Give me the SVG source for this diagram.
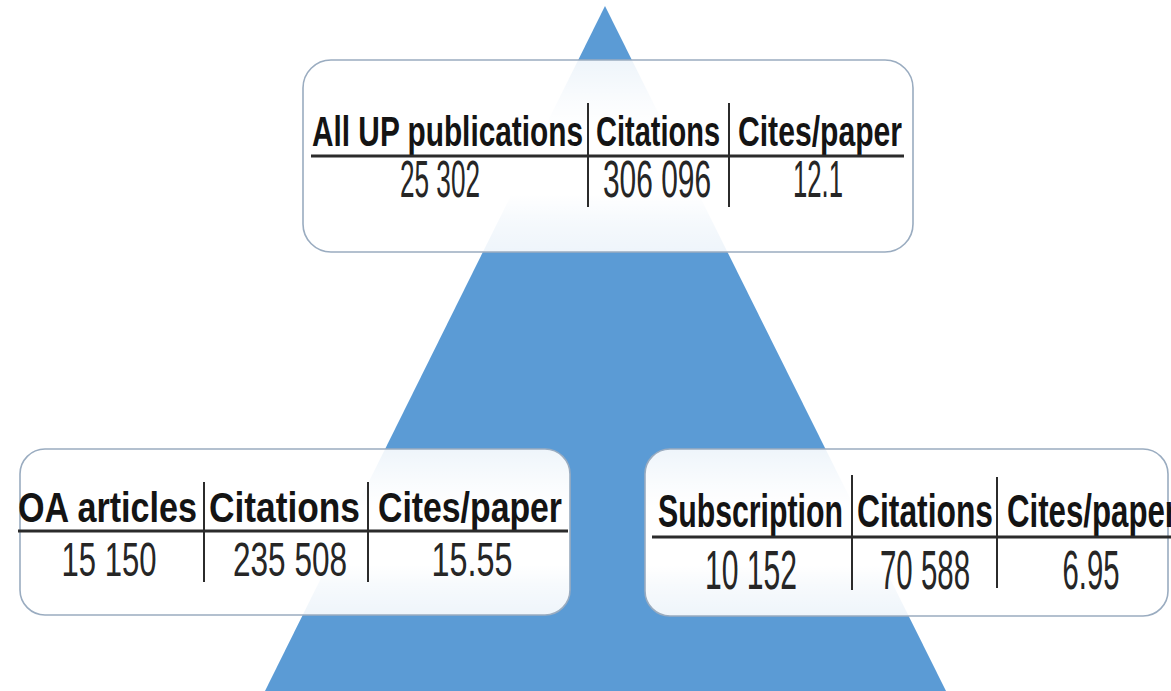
<svg xmlns="http://www.w3.org/2000/svg" width="1171" height="691" viewBox="0 0 1171 691">
  <defs>
    <linearGradient id="boxfill" x1="0" y1="0" x2="0" y2="1">
      <stop offset="0" stop-color="#ffffff" stop-opacity="0.9"/>
      <stop offset="0.22" stop-color="#ffffff" stop-opacity="0.97"/>
      <stop offset="0.35" stop-color="#ffffff" stop-opacity="1"/>
      <stop offset="0.7" stop-color="#ffffff" stop-opacity="1"/>
      <stop offset="0.82" stop-color="#ffffff" stop-opacity="0.95"/>
      <stop offset="1" stop-color="#ffffff" stop-opacity="0.9"/>
    </linearGradient>
  </defs>
  <style>
    .box { fill: url(#boxfill); stroke: #9AACC0; stroke-width: 1.6; }
    .hd { font-family: "Liberation Sans", Arial, sans-serif; font-weight: bold; fill: #141414; }
    .val { font-family: "Liberation Sans", Arial, sans-serif; fill: #262626; text-anchor: middle; }
    .rule { stroke: #2b2b2b; stroke-width: 3; }
    .vline { stroke: #2b2b2b; stroke-width: 2; }
  </style>
  <rect width="1171" height="691" fill="#ffffff"/>
  <polygon id="pyramid" points="605,6 265,691 946,691" fill="#5B9BD5"/>

  <g id="all-up">
    <rect class="box" x="303" y="60" width="610" height="192" rx="28"/>
    <text class="hd" x="312" y="146" font-size="43" textLength="271" lengthAdjust="spacingAndGlyphs">All UP publications</text>
    <text class="hd" x="596" y="146" font-size="43" textLength="124" lengthAdjust="spacingAndGlyphs">Citations</text>
    <text class="hd" x="738" y="146" font-size="43" textLength="164" lengthAdjust="spacingAndGlyphs">Cites/paper</text>
    <line class="rule" x1="311" y1="156" x2="904" y2="156"/>
    <line class="vline" x1="588" y1="103" x2="588" y2="207"/>
    <line class="vline" x1="729" y1="103" x2="729" y2="207"/>
    <text class="val" x="440" y="197" font-size="51" textLength="80" lengthAdjust="spacingAndGlyphs">25 302</text>
    <text class="val" x="657" y="197" font-size="51" textLength="108" lengthAdjust="spacingAndGlyphs">306 096</text>
    <text class="val" x="818" y="197" font-size="51" textLength="50" lengthAdjust="spacingAndGlyphs">12.1</text>
  </g>

  <g id="oa-articles">
    <rect class="box" x="20" y="449" width="550" height="166" rx="25"/>
    <text class="hd" x="18" y="522" font-size="42" textLength="179" lengthAdjust="spacingAndGlyphs">OA articles</text>
    <text class="hd" x="209" y="522" font-size="42" textLength="151" lengthAdjust="spacingAndGlyphs">Citations</text>
    <text class="hd" x="378" y="522" font-size="42" textLength="184" lengthAdjust="spacingAndGlyphs">Cites/paper</text>
    <line class="rule" x1="18" y1="531" x2="568" y2="531"/>
    <line class="vline" x1="204" y1="482" x2="204" y2="582"/>
    <line class="vline" x1="368" y1="482" x2="368" y2="582"/>
    <text class="val" x="109" y="576" font-size="49" textLength="95" lengthAdjust="spacingAndGlyphs">15 150</text>
    <text class="val" x="290" y="576" font-size="49" textLength="114" lengthAdjust="spacingAndGlyphs">235 508</text>
    <text class="val" x="472" y="576" font-size="49" textLength="81" lengthAdjust="spacingAndGlyphs">15.55</text>
  </g>

  <g id="subscription">
    <rect class="box" x="645" y="449" width="523" height="167" rx="25"/>
    <text class="hd" x="658" y="527" font-size="47" textLength="185" lengthAdjust="spacingAndGlyphs">Subscription</text>
    <text class="hd" x="857" y="527" font-size="47" textLength="136" lengthAdjust="spacingAndGlyphs">Citations</text>
    <text class="hd" x="1007" y="527" font-size="47" textLength="170" lengthAdjust="spacingAndGlyphs">Cites/paper</text>
    <line class="rule" x1="652" y1="537" x2="1171" y2="537"/>
    <line class="vline" x1="852" y1="475" x2="852" y2="590"/>
    <line class="vline" x1="997" y1="477" x2="997" y2="588"/>
    <text class="val" x="751" y="589" font-size="55" textLength="92" lengthAdjust="spacingAndGlyphs">10 152</text>
    <text class="val" x="925" y="589" font-size="55" textLength="90" lengthAdjust="spacingAndGlyphs">70 588</text>
    <text class="val" x="1091" y="589" font-size="55" textLength="57" lengthAdjust="spacingAndGlyphs">6.95</text>
  </g>
</svg>
